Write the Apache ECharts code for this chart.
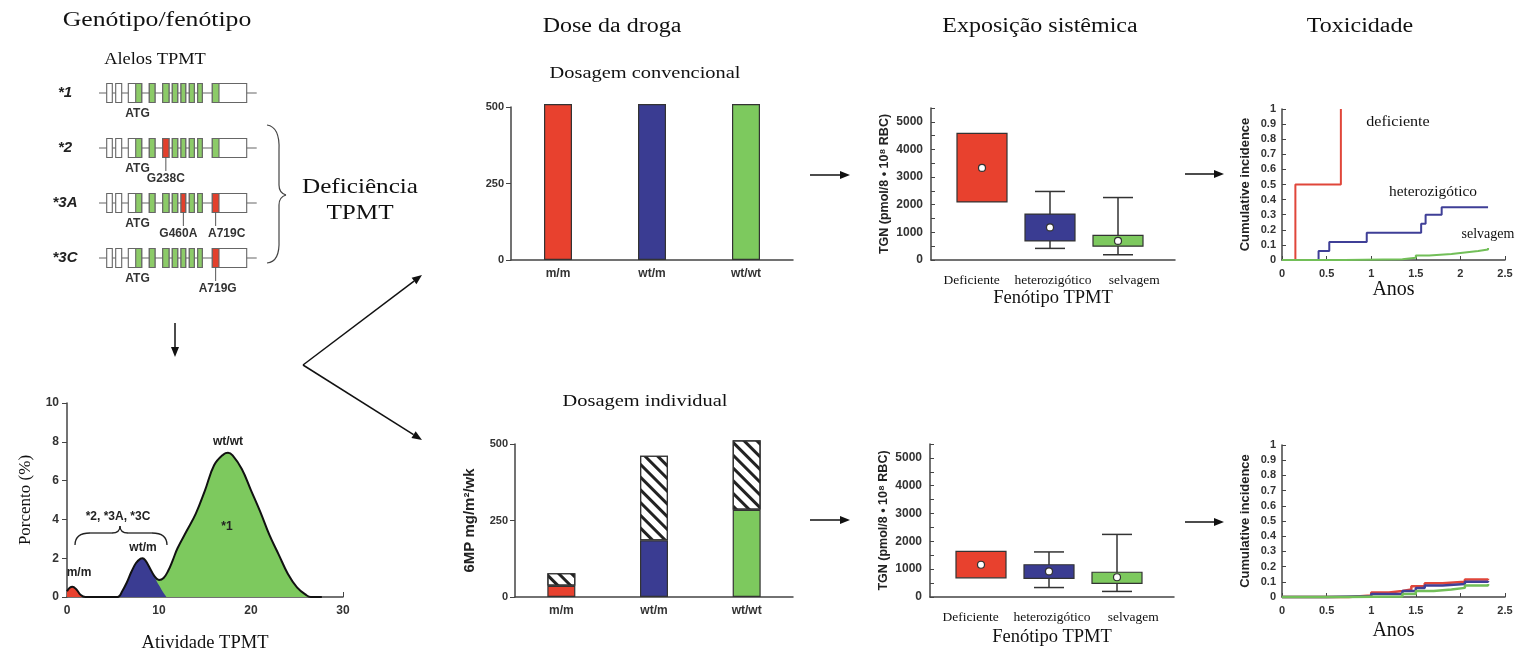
<!DOCTYPE html>
<html><head><meta charset="utf-8">
<script src="https://cdn.jsdelivr.net/npm/echarts@6/dist/echarts.min.js"></script>
<style>html,body{margin:0;padding:0;background:#fff}#c{width:1519px;height:656px}</style>
</head><body><div id="c"></div><script>
// ---------- DATA ----------
const alleles = ['*1', '*2', '*3A', '*3C'];
const exonStarts = [7.7, 16.7, 29.3, 50.3, 63.7, 73.3, 82, 90.3, 98.7, 113.3];
const exonEnds   = [13.3, 22.7, 42.7, 56, 70, 78.7, 86.7, 95.3, 103.3, 147.7];
const codingStarts = [36.7, 50.3, 63.7, 73.3, 82, 90.3, 98.7, 113.3];
const codingEnds   = [42.7, 56, 70, 78.7, 86.7, 95.3, 103.3, 120];
const geneLength = 157.7;
const startCodonLabel = 'ATG';
const startCodonPos = 38.5;
const mutationCoding = [[], [2], [4, 7], [7]];
const mutationNames = [[], ['G238C'], ['G460A', 'A719C'], ['A719G']];

const activityRedX = [0, 0.3, 0.6, 1, 1.5, 2];
const activityRedY = [0.3, 0.48, 0.53, 0.4, 0.1, 0];
const activityBlueX = [5.5, 6, 6.5, 7, 7.5, 8, 8.2, 8.5, 9, 9.5, 10, 10.5, 10.8];
const activityBlueY = [0, 0.3, 0.75, 1.3, 1.75, 1.98, 2.0, 1.9, 1.5, 1.05, 0.6, 0.2, 0];
const activityGreenX = [8.2, 8.5, 9, 9.5, 10, 10.5, 11, 11.5, 12, 13, 14, 15, 16, 17, 17.5, 18, 19, 20, 21, 22, 23, 24, 25, 26, 26.5, 27.7];
const activityGreenY = [2.0, 1.9, 1.5, 1.08, 0.88, 0.98, 1.35, 1.9, 2.5, 3.4, 4.3, 5.5, 6.8, 7.35, 7.44, 7.3, 6.6, 5.5, 4.4, 3.2, 2.2, 1.2, 0.5, 0.1, 0, 0];

const genotypes = ['m/m', 'wt/m', 'wt/wt'];
const conventionalDose = [510, 510, 510];
const individualBase = [37, 185, 285];
const individualExtra = [41, 277, 227];

const phenotypes = ['Deficiente', 'heterozigótico', 'selvagem'];
const convLow  = [null, 420, 190];
const convQ1   = [2100, 690, 500];
const convQ3   = [4580, 1660, 890];
const convHigh = [null, 2480, 2260];
const convMean = [3330, 1180, 690];
const indivLow  = [null, 340, 200];
const indivQ1   = [690, 670, 490];
const indivQ3   = [1640, 1160, 890];
const indivHigh = [null, 1620, 2250];
const indivMean = [1160, 920, 710];

const convYearsDef = [0, 0.15, 0.66];
const convIncDef   = [0, 0.5, 1.0];
const convYearsHet = [0, 0.41, 0.53, 0.95, 1.56, 1.61, 1.79, 2.31];
const convIncHet   = [0, 0.06, 0.12, 0.18, 0.24, 0.30, 0.35, 0.35];
const convYearsWt  = [0, 0.7, 1.35, 1.5, 1.65, 1.9, 2.05, 2.2, 2.31];
const convIncWt    = [0, 0.005, 0.015, 0.03, 0.04, 0.05, 0.06, 0.07, 0.08];
const indYearsDef = [0, 0.75, 1.0, 1.2, 1.35, 1.45, 1.6, 1.8, 2.05, 2.31];
const indIncDef   = [0, 0.01, 0.03, 0.04, 0.05, 0.07, 0.09, 0.10, 0.115, 0.12];
const indYearsHet = [0, 0.5, 1.0, 1.35, 1.5, 1.6, 1.8, 2.05, 2.31];
const indIncHet   = [0, 0.005, 0.02, 0.04, 0.06, 0.075, 0.085, 0.10, 0.105];
const indYearsWt  = [0, 0.7, 1.35, 1.5, 1.7, 1.9, 2.05, 2.31];
const indIncWt    = [0, 0.003, 0.02, 0.04, 0.05, 0.06, 0.075, 0.085];

// ---------- STYLE ----------
const SANS = '"Liberation Sans", Arial, sans-serif';
const SERIF = '"Liberation Serif", "Times New Roman", serif';
const RED = '#E8412E', BLUE = '#3A3C92', GREEN = '#7DC95E', EDGE = '#333';
const catColors = [RED, BLUE, GREEN];
const mutationLabelShift = [[], [0], [-5, 11], [2]];
const axLine = { show: true, lineStyle: { color: '#444', width: 1.5 } };
const tickLab = { fontFamily: SANS, fontSize: 11, fontWeight: 'bold', color: '#333' };
const pairs = (xs, ys) => xs.map((x, i) => [x, ys[i]]);

const chart = echarts.init(document.getElementById('c'), null, { renderer: 'canvas' });

function hiddenAxis(extra) {
  return Object.assign({ show: false, axisLine: { show: false }, axisTick: { show: false }, axisLabel: { show: false }, splitLine: { show: false } }, extra);
}

function geneRender(params, api) {
  const row = api.value(0);
  const p = u => api.coord([u, row]);
  const y = p(0)[1];
  const H = 19;
  const ch = [];
  ch.push({ type: 'line', shape: { x1: p(0)[0], y1: y, x2: p(geneLength)[0], y2: y }, style: { stroke: '#666', lineWidth: 1.2 } });
  exonStarts.forEach((s, k) => {
    ch.push({ type: 'rect', shape: { x: p(s)[0], y: y - H / 2, width: p(exonEnds[k])[0] - p(s)[0], height: H }, style: { fill: '#fff', stroke: '#666', lineWidth: 1.1 } });
  });
  codingStarts.forEach((s, k) => {
    const mut = mutationCoding[row].indexOf(k) >= 0;
    ch.push({ type: 'rect', shape: { x: p(s)[0], y: y - H / 2, width: p(codingEnds[k])[0] - p(s)[0], height: H }, style: { fill: mut ? '#E2402C' : '#8CCB68', stroke: '#666', lineWidth: 1.1 } });
  });
  ch.push({ type: 'text', x: p(startCodonPos)[0], y: y + 21, style: { text: startCodonLabel, font: 'bold 12px ' + SANS, fill: '#333', align: 'center', verticalAlign: 'middle' } });
  mutationCoding[row].forEach((k, j) => {
    const cx = (p(codingStarts[k])[0] + p(codingEnds[k])[0]) / 2;
    ch.push({ type: 'line', shape: { x1: cx, y1: y + H / 2, x2: cx, y2: y + 23 }, style: { stroke: '#555', lineWidth: 1 } });
    ch.push({ type: 'text', x: cx + mutationLabelShift[row][j], y: y + 31, style: { text: mutationNames[row][j], font: 'bold 12px ' + SANS, fill: '#333', align: 'center', verticalAlign: 'middle' } });
  });
  ch.push({ type: 'text', x: p(-34)[0], y: y, style: { text: alleles[row], font: 'italic bold 15px ' + SANS, fill: '#222', align: 'center', verticalAlign: 'middle' } });
  return { type: 'group', children: ch };
}

function boxRender(low, q1, q3, high, mean) {
  return function (params, api) {
    const i = params.dataIndex;
    const c = v => api.coord([i, v]);
    const cx = c(0)[0];
    const ch = [];
    if (low[i] != null) {
      ch.push({ type: 'line', shape: { x1: cx, y1: c(low[i])[1], x2: cx, y2: c(high[i])[1] }, style: { stroke: EDGE, lineWidth: 1.5 } });
      ch.push({ type: 'line', shape: { x1: cx - 15, y1: c(low[i])[1], x2: cx + 15, y2: c(low[i])[1] }, style: { stroke: EDGE, lineWidth: 1.5 } });
      ch.push({ type: 'line', shape: { x1: cx - 15, y1: c(high[i])[1], x2: cx + 15, y2: c(high[i])[1] }, style: { stroke: EDGE, lineWidth: 1.5 } });
    }
    const top = c(q3[i])[1], bot = c(q1[i])[1];
    ch.push({ type: 'rect', shape: { x: cx - 25, y: top, width: 50, height: bot - top }, style: { fill: catColors[i], stroke: EDGE, lineWidth: 1.2 } });
    const m = c(mean[i]);
    ch.push({ type: 'circle', shape: { cx: cx, cy: m[1], r: 3.5 }, style: { fill: '#fff', stroke: EDGE, lineWidth: 1.2 } });
    return { type: 'group', children: ch };
  };
}

function arrow(x1, y1, x2, y2) {
  const a = Math.atan2(y2 - y1, x2 - x1), L = 10, W = 4;
  const bx = x2 - L * Math.cos(a), by = y2 - L * Math.sin(a);
  return [
    { type: 'line', shape: { x1, y1, x2: bx, y2: by }, style: { stroke: '#111', lineWidth: 1.5 } },
    { type: 'polygon', shape: { points: [[x2, y2], [bx + W * Math.sin(a), by - W * Math.cos(a)], [bx - W * Math.sin(a), by + W * Math.cos(a)]] }, style: { fill: '#111' } }
  ];
}
function txt(x, y, text, font, fill, sx) {
  return { type: 'text', x, y, scaleX: sx || 1, style: { text, font, fill: fill || '#111', align: 'center', verticalAlign: 'middle' } };
}
function brace(segs, color, w) {
  return segs.map(s => s.length === 6
    ? { type: 'bezierCurve', shape: { x1: s[0], y1: s[1], cpx1: s[2], cpy1: s[3], x2: s[4], y2: s[5] }, style: { fill: null, stroke: color, lineWidth: w } }
    : { type: 'line', shape: { x1: s[0], y1: s[1], x2: s[2], y2: s[3] }, style: { stroke: color, lineWidth: w } });
}

const outline = pairs(activityRedX, activityRedY)
  .concat(pairs(activityBlueX, activityBlueY).filter(d => d[0] < 8.2))
  .concat(pairs(activityGreenX, activityGreenY));

const boxYAxis = (g) => ({
  gridIndex: g, type: 'value', min: 0, max: 5500, interval: 500,
  axisLine: axLine, axisTick: { show: true, inside: true, length: 4, lineStyle: { color: '#444' } },
  axisLabel: Object.assign({}, tickLab, { fontSize: 12, formatter: v => (v % 1000 === 0 ? String(v) : '') }),
  splitLine: { show: false },
  name: 'TGN (pmol/8 • 10⁸ RBC)', nameLocation: 'middle', nameGap: 40,
  nameTextStyle: { fontFamily: SANS, fontSize: 12.5, fontWeight: 'bold', color: '#222' }
});
const boxXAxis = (g, gap) => ({
  gridIndex: g, type: 'category', data: phenotypes,
  axisLine: axLine, axisTick: { show: false },
  axisLabel: { fontFamily: SERIF, fontSize: 13.5, color: '#111', margin: 13, interval: 0 },
  name: 'Fenótipo TPMT', nameLocation: 'middle', nameGap: gap,
  nameTextStyle: { fontFamily: SERIF, fontSize: 18.5, color: '#111' }
});
const cumX = (g, gap) => ({
  gridIndex: g, type: 'value', min: 0, max: 2.5, interval: 0.5,
  axisLine: axLine, axisTick: { show: true, inside: true, length: 4, lineStyle: { color: '#444' } },
  axisLabel: Object.assign({}, tickLab, { margin: 8 }), splitLine: { show: false },
  name: 'Anos', nameLocation: 'middle', nameGap: gap,
  nameTextStyle: { fontFamily: SERIF, fontSize: 20, color: '#111' }
});
const cumY = (g) => ({
  gridIndex: g, type: 'value', min: 0, max: 1, interval: 0.1,
  axisLine: axLine, axisTick: { show: true, inside: true, length: 4, lineStyle: { color: '#444' } },
  axisLabel: Object.assign({}, tickLab, { margin: 6, formatter: v => String(Math.round(v * 10) / 10) }),
  splitLine: { show: false },
  name: 'Cumulative incidence', nameLocation: 'middle', nameGap: 30,
  nameTextStyle: { fontFamily: SANS, fontSize: 13, fontWeight: 'bold', color: '#222' }
});
const stepLine = (xi, xs, ys, color, w) => ({
  type: 'line', xAxisIndex: xi, yAxisIndex: xi, step: 'end', symbol: 'none',
  data: pairs(xs, ys), lineStyle: { color, width: w }, clip: false
});

const graphics = [].concat(
  [txt(157, 20, 'Genótipo/fenótipo', '22px ' + SERIF, '#111', 1.17),
   txt(155, 60, 'Alelos TPMT', '16px ' + SERIF, '#111', 1.15),
   txt(612, 27, 'Dose da droga', '20px ' + SERIF, '#111', 1.2),
   txt(1040, 27, 'Exposição sistêmica', '20px ' + SERIF, '#111', 1.2),
   txt(1360, 27, 'Toxicidade', '20px ' + SERIF, '#111', 1.2),
   txt(360, 187, 'Deficiência', '21px ' + SERIF, '#111', 1.2),
   txt(360, 213, 'TPMT', '21px ' + SERIF, '#111', 1.2),
   txt(645, 74, 'Dosagem convencional', '17px ' + SERIF, '#111', 1.2),
   txt(645, 402, 'Dosagem individual', '17px ' + SERIF, '#111', 1.2),
   txt(1398, 122, 'deficiente', '14px ' + SERIF, '#111', 1.15),
   txt(1433, 192, 'heterozigótico', '14px ' + SERIF, '#111', 1.1),
   txt(1488, 234, 'selvagem', '14px ' + SERIF, '#111', 1.0),
   txt(79, 573, 'm/m', 'bold 12px ' + SANS, '#222'),
   txt(143, 548, 'wt/m', 'bold 12px ' + SANS, '#222'),
   txt(118, 517, '*2, *3A, *3C', 'bold 12px ' + SANS, '#222'),
   txt(228, 442, 'wt/wt', 'bold 12px ' + SANS, '#222'),
   txt(227, 527, '*1', 'bold 12px ' + SANS, '#222')
  ],
  brace([[267, 125, 280, 127, 279, 150], [279, 150, 279, 185], [279, 185, 279, 193, 286, 195],
         [286, 195, 279, 197, 279, 205], [279, 205, 279, 240], [279, 240, 280, 262, 267, 263]], '#444', 1.2),
  brace([[75, 545, 75, 533, 90, 533], [90, 533, 112, 533], [112, 533, 120, 533, 120, 526],
         [120, 526, 120, 533, 128, 533], [128, 533, 152, 533], [152, 533, 167, 533, 167, 545]], '#222', 1.3),
  arrow(175, 323, 175, 357),
  arrow(303, 365, 422, 275),
  arrow(303, 365, 422, 440),
  arrow(810, 175, 850, 175),
  arrow(810, 520, 850, 520),
  arrow(1185, 174, 1224, 174),
  arrow(1185, 522, 1224, 522)
);

const option = {
  backgroundColor: '#fff',
  animation: false,
  grid: [
    { left: 99, top: 93, width: 160, height: 165 },
    { left: 67, top: 403, width: 276, height: 194 },
    { left: 511, top: 107, width: 282, height: 153 },
    { left: 515, top: 444, width: 278, height: 153 },
    { left: 931, top: 108, width: 244, height: 152 },
    { left: 948, top: 108, width: 204, height: 152 },
    { left: 930, top: 444, width: 244, height: 153 },
    { left: 947, top: 444, width: 204, height: 153 },
    { left: 1282, top: 109, width: 223, height: 151 },
    { left: 1282, top: 445, width: 223, height: 152 }
  ],
  xAxis: [
    hiddenAxis({ gridIndex: 0, type: 'value', min: 0, max: 160 }),
    { gridIndex: 1, type: 'value', min: 0, max: 30, interval: 10, axisLine: axLine,
      axisTick: { show: true, inside: true, length: 5, lineStyle: { color: '#444' } },
      axisLabel: Object.assign({}, tickLab, { fontSize: 12, margin: 8 }), splitLine: { show: false },
      name: 'Atividade TPMT', nameLocation: 'middle', nameGap: 37,
      nameTextStyle: { fontFamily: SERIF, fontSize: 18.5, color: '#111' } },
    { gridIndex: 2, type: 'category', data: genotypes, axisLine: axLine, axisTick: { show: false },
      axisLabel: Object.assign({}, tickLab, { fontSize: 12, margin: 8 }) },
    { gridIndex: 3, type: 'category', data: genotypes, axisLine: axLine, axisTick: { show: false },
      axisLabel: Object.assign({}, tickLab, { fontSize: 12, margin: 8 }) },
    boxXAxis(4, 29),
    hiddenAxis({ gridIndex: 5, type: 'category', data: phenotypes }),
    boxXAxis(6, 31),
    hiddenAxis({ gridIndex: 7, type: 'category', data: phenotypes }),
    cumX(8, 20),
    cumX(9, 24)
  ],
  yAxis: [
    hiddenAxis({ gridIndex: 0, type: 'value', min: 0, max: 3, inverse: true }),
    { gridIndex: 1, type: 'value', min: 0, max: 10, interval: 2, axisLine: axLine,
      axisTick: { show: true, length: 5, lineStyle: { color: '#444' } },
      axisLabel: Object.assign({}, tickLab, { fontSize: 12, margin: 8 }), splitLine: { show: false },
      name: 'Porcento (%)', nameLocation: 'middle', nameGap: 33,
      nameTextStyle: { fontFamily: SERIF, fontSize: 17, color: '#111' } },
    { gridIndex: 2, type: 'value', min: 0, max: 500, interval: 250, axisLine: axLine,
      axisTick: { show: true, length: 5, lineStyle: { color: '#444' } },
      axisLabel: Object.assign({}, tickLab, { margin: 7 }), splitLine: { show: false } },
    { gridIndex: 3, type: 'value', min: 0, max: 500, interval: 250, axisLine: axLine,
      axisTick: { show: true, length: 5, lineStyle: { color: '#444' } },
      axisLabel: Object.assign({}, tickLab, { margin: 7 }), splitLine: { show: false },
      name: '6MP mg/m²/wk', nameLocation: 'middle', nameGap: 38,
      nameTextStyle: { fontFamily: SANS, fontSize: 15, fontWeight: 'bold', color: '#222' } },
    boxYAxis(4),
    hiddenAxis({ gridIndex: 5, type: 'value', min: 0, max: 5500 }),
    boxYAxis(6),
    hiddenAxis({ gridIndex: 7, type: 'value', min: 0, max: 5500 }),
    cumY(8),
    cumY(9)
  ],
  series: [
    { type: 'custom', xAxisIndex: 0, yAxisIndex: 0, renderItem: geneRender, clip: false,
      data: alleles.map((a, i) => [i]) },
    { type: 'line', xAxisIndex: 1, yAxisIndex: 1, smooth: 0.4, symbol: 'none', data: pairs(activityGreenX, activityGreenY),
      lineStyle: { width: 0 }, areaStyle: { color: GREEN, opacity: 1 } },
    { type: 'line', xAxisIndex: 1, yAxisIndex: 1, smooth: 0.4, symbol: 'none', data: pairs(activityBlueX, activityBlueY),
      lineStyle: { width: 0 }, areaStyle: { color: BLUE, opacity: 1 } },
    { type: 'line', xAxisIndex: 1, yAxisIndex: 1, smooth: 0.4, symbol: 'none', data: pairs(activityRedX, activityRedY),
      lineStyle: { width: 0 }, areaStyle: { color: RED, opacity: 1 } },
    { type: 'line', xAxisIndex: 1, yAxisIndex: 1, smooth: 0.4, symbol: 'none', data: outline,
      lineStyle: { width: 2, color: '#111' } },
    { type: 'bar', xAxisIndex: 2, yAxisIndex: 2, barWidth: 28, clip: false,
      data: conventionalDose.map((v, i) => ({ value: v, itemStyle: { color: catColors[i], borderColor: EDGE, borderWidth: 1.2 } })) },
    { type: 'bar', xAxisIndex: 3, yAxisIndex: 3, barWidth: 28, stack: 'ind', clip: false,
      data: individualBase.map((v, i) => ({ value: v, itemStyle: { color: catColors[i], borderColor: EDGE, borderWidth: 1.2 } })) },
    { type: 'bar', xAxisIndex: 3, yAxisIndex: 3, barWidth: 28, stack: 'ind', clip: false,
      data: individualExtra,
      itemStyle: { color: '#fff', borderColor: EDGE, borderWidth: 1.2,
        decal: { symbol: 'rect', symbolSize: 1, color: '#222', dashArrayX: [1, 0], dashArrayY: [2.5, 6], rotation: Math.PI / 4 } } },
    { type: 'custom', xAxisIndex: 5, yAxisIndex: 5, clip: false, renderItem: boxRender(convLow, convQ1, convQ3, convHigh, convMean),
      data: phenotypes.map((p, i) => [i, convQ1[i], convQ3[i]]) },
    { type: 'custom', xAxisIndex: 7, yAxisIndex: 7, clip: false, renderItem: boxRender(indivLow, indivQ1, indivQ3, indivHigh, indivMean),
      data: phenotypes.map((p, i) => [i, indivQ1[i], indivQ3[i]]) },
    stepLine(8, convYearsDef, convIncDef, '#E0463A', 2),
    stepLine(8, convYearsHet, convIncHet, '#3F3F97', 2),
    stepLine(8, convYearsWt, convIncWt, '#72BF58', 2),
    stepLine(9, indYearsDef, indIncDef, '#E0463A', 2.5),
    stepLine(9, indYearsHet, indIncHet, '#3F3F97', 2.5),
    stepLine(9, indYearsWt, indIncWt, '#72BF58', 2.5)
  ],
  graphic: { elements: graphics.map(g => Object.assign({ z: 100 }, g)) }
};
chart.setOption(option);
</script></body></html>
